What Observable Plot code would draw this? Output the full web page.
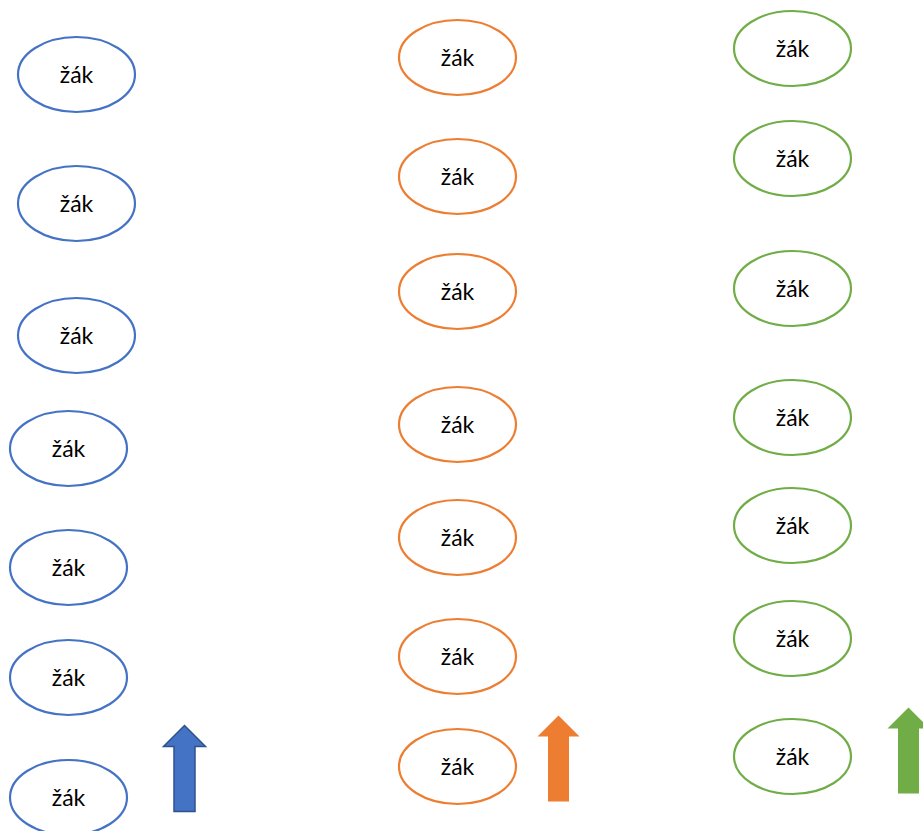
<!DOCTYPE html>
<html>
<head>
<meta charset="utf-8">
<script src="https://cdn.jsdelivr.net/npm/d3@7"></script>
<script src="https://cdn.jsdelivr.net/npm/@observablehq/plot@0.6"></script>
<style>
  html, body { margin: 0; padding: 0; background: #fff; }
  #chart svg { display: block; }
</style>
</head>
<body>
<div id="chart"></div>
<script>
// ---- data ----
const label = "žák";
const groups = ["blue", "orange", "green"];
const blueX = [76, 76, 76, 68, 68, 68, 68];
const blueY = [74, 203, 335, 448, 567, 677, 797];
const orangeX = [457, 457, 457, 457, 457, 457, 457];
const orangeY = [57, 176, 291, 424, 537, 656, 766];
const greenX = [792, 792, 792, 792, 792, 792, 792];
const greenY = [48, 158, 288, 417, 525, 638, 756];
const arrowGroup = ["blue", "orange", "green"];
const arrowX = [184, 558, 908];
const arrowY = [768, 758, 750];

// ---- build tables ----
const nodes = [];
[[blueX, blueY, "blue"], [orangeX, orangeY, "orange"], [greenX, greenY, "green"]].forEach(([xs, ys, g]) => {
  xs.forEach((x, i) => nodes.push({x, y: ys[i], group: g, text: label}));
});
const arrows = arrowGroup.map((g, i) => ({group: g, x: arrowX[i], y: arrowY[i]}));

// ---- styles ----
const strokeColors = {blue: "#4472C4", orange: "#ED7D31", green: "#70AD47"};
const arrowStroke = {blue: "#2F528F", orange: "#ED7D31", green: "#70AD47"};

const K = 0.5523;
function ellipseSymbol(rx, ry) {
  return {
    draw(ctx) {
      ctx.moveTo(rx, 0);
      ctx.bezierCurveTo(rx, ry * K, rx * K, ry, 0, ry);
      ctx.bezierCurveTo(-rx * K, ry, -rx, ry * K, -rx, 0);
      ctx.bezierCurveTo(-rx, -ry * K, -rx * K, -ry, 0, -ry);
      ctx.bezierCurveTo(rx * K, -ry, rx, -ry * K, rx, 0);
      ctx.closePath();
    }
  };
}
function arrowSymbol(len, headW, headH, shaftW) {
  const t = -len / 2, b = len / 2, hb = t + headH;
  return {
    draw(ctx) {
      ctx.moveTo(0, t);
      ctx.lineTo(headW / 2, hb);
      ctx.lineTo(shaftW / 2, hb);
      ctx.lineTo(shaftW / 2, b);
      ctx.lineTo(-shaftW / 2, b);
      ctx.lineTo(-shaftW / 2, hb);
      ctx.lineTo(-headW / 2, hb);
      ctx.closePath();
    }
  };
}

const W = 923, H = 831;
const chart = Plot.plot({
  width: W,
  height: H,
  margin: 0,
  x: {domain: [0, W], range: [0, W], axis: null},
  y: {domain: [0, H], range: [0, H], axis: null},
  color: {domain: groups, range: groups.map(g => strokeColors[g])},
  marks: [
    Plot.dot(nodes, {
      x: "x", y: "y",
      symbol: () => ellipseSymbol(58.5, 37.5),
      r: 10,
      stroke: d => strokeColors[d.group],
      fill: "white",
      strokeWidth: 2.2
    }),
    Plot.text(nodes, {
      x: "x", y: "y", text: "text",
      fontFamily: "Lato, 'Open Sans', sans-serif",
      fontSize: 23,
      fill: "black",
      dy: 1
    }),
    ...arrowGroup.map((g, i) => Plot.dot(arrows.filter(a => a.group === g), {
      x: "x", y: "y",
      symbol: arrowSymbol(86, 42, 21, 21),
      r: 10,
      fill: strokeColors[g],
      stroke: arrowStroke[g],
      strokeWidth: g === "blue" ? 1.5 : 0
    }))
  ]
});
document.getElementById("chart").appendChild(chart);
</script>
</body>
</html>
